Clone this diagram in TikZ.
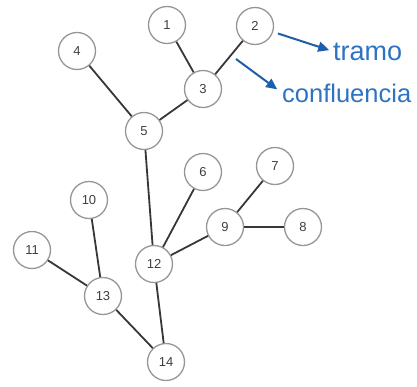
\documentclass[tikz,border=0pt]{standalone}
\usepackage{fontspec}
\setmainfont{Liberation Sans}
\usetikzlibrary{arrows.meta}
\definecolor{ringgray}{RGB}{150,150,150}
\definecolor{edgegray}{RGB}{55,55,55}
\definecolor{labelblue}{RGB}{45,115,195}
\definecolor{arrowblue}{RGB}{30,95,170}
\begin{document}
\begin{tikzpicture}[x=1pt,y=-1pt,
    seg/.style={circle, draw=ringgray, line width=1.3pt, fill=white,
      minimum size=37pt, inner sep=0pt, font=\fontsize{13}{13}\selectfont, text=black!75},
    link/.style={draw=edgegray, line width=1.8pt},
    tag/.style={text=labelblue, inner sep=0pt, anchor=base west,
      font=\fontsize{25.5}{30}\selectfont},
    pointer/.style={draw=arrowblue, line width=2pt, -{Triangle[length=11pt,width=10pt]}}]
    \useasboundingbox (0,0) rectangle (417,386);
    % Nodes
    \node[seg] (n1) at (167,25) {1} ; %
    \node[seg] (n2) at (255,26) {2} ; %
    \node[seg] (n3) at (203,89) {3} ; %
    \node[seg] (n4) at (77,51) {4} ; %
    \node[seg] (n5) at (144,131) {5} ; %
    \node[seg] (n6) at (203,172) {6} ; %
    \node[seg] (n7) at (275,166) {7} ; %
    \node[seg] (n8) at (303,227) {8} ; %
    \node[seg] (n9) at (225,227) {9} ; %
    \node[seg] (n10) at (89,200) {10} ; %
    \node[seg] (n11) at (32,250) {11} ; %
    \node[seg] (n12) at (154,264) {12} ; %
    \node[seg] (n13) at (103,296) {13} ; %
    \node[seg] (n14) at (166,362) {14} ; %
    % Labels
    \node[tag, font=\fontsize{27}{30}\selectfont] (tramo) at (333,60) {tramo} ; %
    \node[tag] (confl) at (282,102) {confluencia} ; %
    \coordinate (cstart) at (236,59) ; %
    % Edges
    \draw[link] (n1) -- (n3) ; %
    \draw[link] (n2) -- (n3) ; %
    \draw[link] (n3) -- (n5) ; %
    \draw[link] (n4) -- (n5) ; %
    \draw[link] (n5) -- (n12) ; %
    \draw[link] (n6) -- (n12) ; %
    \draw[link] (n9) -- (n12) ; %
    \draw[link] (n7) -- (n9) ; %
    \draw[link] (n8) -- (n9) ; %
    \draw[link] (n12) -- (n14) ; %
    \draw[link] (n10) -- (n13) ; %
    \draw[link] (n11) -- (n13) ; %
    \draw[link] (n13) -- (n14) ; %
    % Arrows
    \draw[pointer, shorten <=5pt, shorten >=4pt] (n2) -- (tramo.west) ; %
    \draw[pointer, shorten >=6pt] (cstart) -- (confl.west) ; %
\end{tikzpicture}
\end{document}
